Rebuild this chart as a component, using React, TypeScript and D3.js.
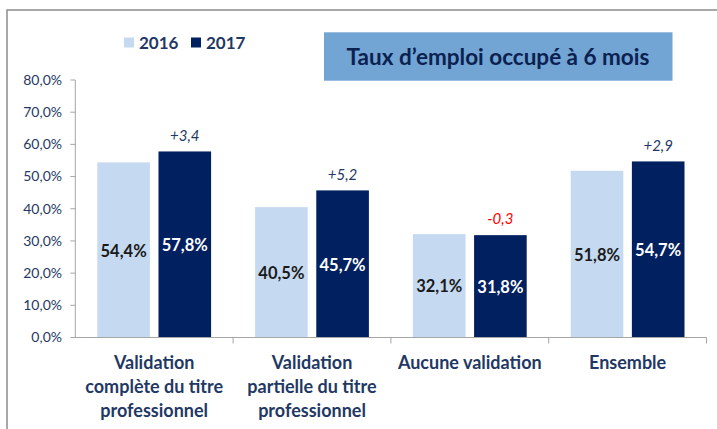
import React from "react";
import * as d3 from "d3";

const categories = [
  "Validation complète du titre professionnel",
  "Validation partielle du titre professionnel",
  "Aucune validation",
  "Ensemble",
];
const categoryLines = [
  ["Validation", "complète du titre", "professionnel"],
  ["Validation", "partielle du titre", "professionnel"],
  ["Aucune validation"],
  ["Ensemble"],
];
const seriesNames = ["2016", "2017"];
const values2016 = [54.4, 40.5, 32.1, 51.8];
const values2017 = [57.8, 45.7, 31.8, 54.7];
const yTicks = [0, 10, 20, 30, 40, 50, 60, 70, 80];
const title = "Taux d’emploi occupé à 6 mois";

const W = 717;
const H = 429;
const FONT = "Lato, 'Open Sans', sans-serif";
const C2016 = "#C5D9F1";
const C2017 = "#002060";
const NAVY = "#1F3864";

const fmt = (v: number) => d3.format(".1f")(v).replace(".", ",").replace("−", "-");

export default function App() {
  const x0 = d3.scaleBand<string>().domain(categories).range([75.3, 706.5]).padding(0);
  const bw = x0.bandwidth();
  const x1 = d3.scaleBand<string>().domain(seriesNames).range([22, bw - 22]).paddingInner(0.14);
  const y = d3.scaleLinear().domain([0, 80]).range([337.5, 80]);

  const series = [values2016, values2017];
  const axisX = x0.range()[0];

  return (
    <svg
      width={W}
      height={H}
      style={{ position: "absolute", left: 0, top: 0, background: "#fff" }}
      fontFamily={FONT}
    >
      {/* frame */}
      <path d={`M7,${H} L7,10 L${W},10`} fill="none" stroke="#8c8c8c" strokeWidth={1.5} />

      {/* legend */}
      {seriesNames.map((s, i) => (
        <g key={s} transform={`translate(${124 + i * 67},42.5)`}>
          <rect x={0} y={-5} width={10} height={10} fill={i === 0 ? C2016 : C2017} />
          <text x={15} y={6} fontSize={17} fontWeight={700} fill={NAVY}>
            {s}
          </text>
        </g>
      ))}

      {/* title box */}
      <rect x={324} y={32.3} width={348.5} height={48.4} fill="#72A4D4" />
      <text x={498} y={56.7} dy="0.35em" textAnchor="middle" fontSize={22.5} fontWeight={700} fill="#0B2150">
        {title}
      </text>

      {/* y axis */}
      <line x1={axisX} x2={axisX} y1={y(80)} y2={y(0)} stroke="#a6a6a6" />
      {yTicks.map((t) => (
        <g key={t}>
          <line x1={axisX - 5} x2={axisX} y1={y(t)} y2={y(t)} stroke="#a6a6a6" />
          <text x={62} y={y(t)} dy="0.35em" textAnchor="end" fontSize={14} fill={NAVY}>
            {fmt(t)}%
          </text>
        </g>
      ))}

      {/* bars */}
      {categories.map((c, ci) => (
        <g key={c} transform={`translate(${x0(c)},0)`}>
          {seriesNames.map((s, si) => {
            const v = series[si][ci];
            const bx = x1(s)!;
            return (
              <g key={s}>
                <rect x={bx} y={y(v)} width={x1.bandwidth()} height={y(0) - y(v)} fill={si === 0 ? C2016 : C2017} />
                <text
                  x={bx + x1.bandwidth() / 2}
                  y={(y(v) + y(0)) / 2}
                  dy="0.4em"
                  textAnchor="middle"
                  fontSize={16.5}
                  fontWeight={700}
                  fill={si === 0 ? "#1a1a1a" : "#ffffff"}
                >
                  {fmt(v)}%
                </text>
              </g>
            );
          })}
          {(() => {
            const d = values2017[ci] - values2016[ci];
            const bx = x1("2017")!;
            return (
              <text
                x={bx + x1.bandwidth() / 2}
                y={y(values2017[ci]) - 16}
                dy="0.35em"
                textAnchor="middle"
                fontSize={15}
                fontStyle="italic"
                fill={d < 0 ? "#FF0000" : NAVY}
              >
                {(d >= 0 ? "+" : "") + fmt(d)}
              </text>
            );
          })()}
        </g>
      ))}

      {/* x axis */}
      <line x1={axisX} x2={x0.range()[1]} y1={y(0)} y2={y(0)} stroke="#a6a6a6" />
      {categories.map((c) => (
        <line key={c} x1={x0(c)! + bw} x2={x0(c)! + bw} y1={y(0)} y2={y(0) + 6} stroke="#a6a6a6" />
      ))}
      {categories.map((c, ci) => (
        <text key={c} textAnchor="middle" fontSize={18} fontWeight={700} fill={NAVY}>
          {categoryLines[ci].map((line, li) => (
            <tspan key={li} x={x0(c)! + bw / 2} y={363 + li * 24} dy="0.35em">
              {line}
            </tspan>
          ))}
        </text>
      ))}
    </svg>
  );
}
